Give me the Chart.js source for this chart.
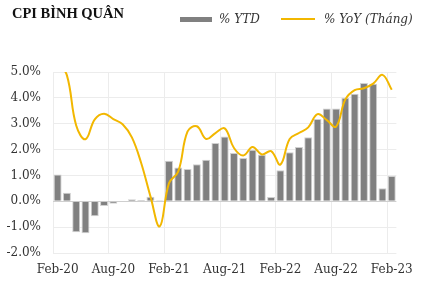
<!DOCTYPE html>
<html>
<head>
<meta charset="utf-8">
<script src="https://cdn.jsdelivr.net/npm/chart.js@4.4.0/dist/chart.umd.min.js"></script>
<style>
  body { margin: 0; background: #fff; }
  #wrap { position: relative; width: 423px; height: 286px; overflow: hidden; }
  #title { position: absolute; left: 12px; top: 5px; font: bold 14.5px "Liberation Serif", serif; color: #111; }
  .leg { position: absolute; font: italic 12px "DejaVu Serif", serif; color: #333; top: 12px; }
  .sw { position: absolute; }
  canvas { position: absolute; left: 0; top: 0; }
</style>
</head>
<body>
<div id="wrap">
  <canvas id="chart" width="423" height="286"></canvas>
  <div id="title">CPI BÌNH QUÂN</div>
  <div class="sw" style="left:180px;top:17px;width:32px;height:5px;background:#808080"></div>
  <div class="leg" style="left:219px">% YTD</div>
  <div class="sw" style="left:281px;top:18px;width:34px;height:2px;background:#f2b700"></div>
  <div class="leg" style="left:324px">% YoY (Tháng)</div>
</div>
<script>
const months = ["Feb-20","Mar-20","Apr-20","May-20","Jun-20","Jul-20","Aug-20","Sep-20","Oct-20","Nov-20","Dec-20",
  "Jan-21","Feb-21","Mar-21","Apr-21","May-21","Jun-21","Jul-21","Aug-21","Sep-21","Oct-21","Nov-21","Dec-21",
  "Jan-22","Feb-22","Mar-22","Apr-22","May-22","Jun-22","Jul-22","Aug-22","Sep-22","Oct-22","Nov-22","Dec-22",
  "Jan-23","Feb-23"];

// % YTD (bars)
const ytd = [1.04, 0.33, -1.20, -1.24, -0.58, -0.18, -0.10, 0.02, 0.08, 0.05, 0.18,
  0.04, 1.57, 1.31, 1.25, 1.43, 1.61, 2.25, 2.51, 1.87, 1.67, 1.99, 1.80,
  0.17, 1.20, 1.90, 2.10, 2.48, 3.18, 3.59, 3.59, 4.00, 4.16, 4.57, 4.55,
  0.50, 0.98];

// % YoY (line)
const yoy = [5.40, 4.87, 2.93, 2.40, 3.17, 3.39, 3.18, 2.98, 2.47, 1.48, 0.19,
  -0.97, 0.70, 1.16, 2.70, 2.90, 2.41, 2.64, 2.82, 2.06, 1.77, 2.10, 1.81,
  1.94, 1.42, 2.41, 2.64, 2.86, 3.37, 3.14, 2.89, 3.94, 4.30, 4.37, 4.55,
  4.89, 4.31];

const tickFont = { family: "DejaVu Serif", size: 12 };

new Chart(document.getElementById("chart"), {
  data: {
    labels: months,
    datasets: [
      {
        type: "line",
        label: "% YoY (Tháng)",
        data: yoy,
        borderColor: "#f2b700",
        borderWidth: 2,
        pointRadius: 0,
        tension: 0.4,
        order: 0
      },
      {
        type: "bar",
        label: "% YTD",
        data: ytd,
        backgroundColor: "#808080",
        borderColor: "#d0d0d0",
        borderWidth: 1,
        barPercentage: 0.86,
        categoryPercentage: 1,
        order: 1
      }
    ]
  },
  options: {
    responsive: false,
    animation: false,
    layout: { padding: { top: 72, right: 26, bottom: 0, left: 0 } },
    plugins: { legend: { display: false }, tooltip: { enabled: false } },
    scales: {
      x: {
        offset: true,
        grid: {
          offset: true,
          color: ctx => (ctx.index % 6 === 0 ? "#ececec" : "rgba(0,0,0,0)"),
          drawTicks: false
        },
        border: { display: false },
        ticks: {
          autoSkip: false,
          maxRotation: 0,
          color: "#333",
          font: tickFont,
          padding: 10,
          callback: (v, i) => (i % 6 === 0 ? months[i] : "")
        },
        afterFit: s => { s.height = 33; }
      },
      y: {
        min: -2,
        max: 5,
        ticks: {
          stepSize: 1,
          color: "#333",
          font: tickFont,
          padding: 12,
          callback: v => v.toFixed(1) + "%"
        },
        grid: {
          color: ctx => (ctx.tick && ctx.tick.value === 0 ? "#cfcfcf" : "#ececec"),
          drawTicks: false
        },
        border: { display: false },
        afterFit: s => { s.width = 53; }
      }
    }
  }
});
</script>
</body>
</html>
